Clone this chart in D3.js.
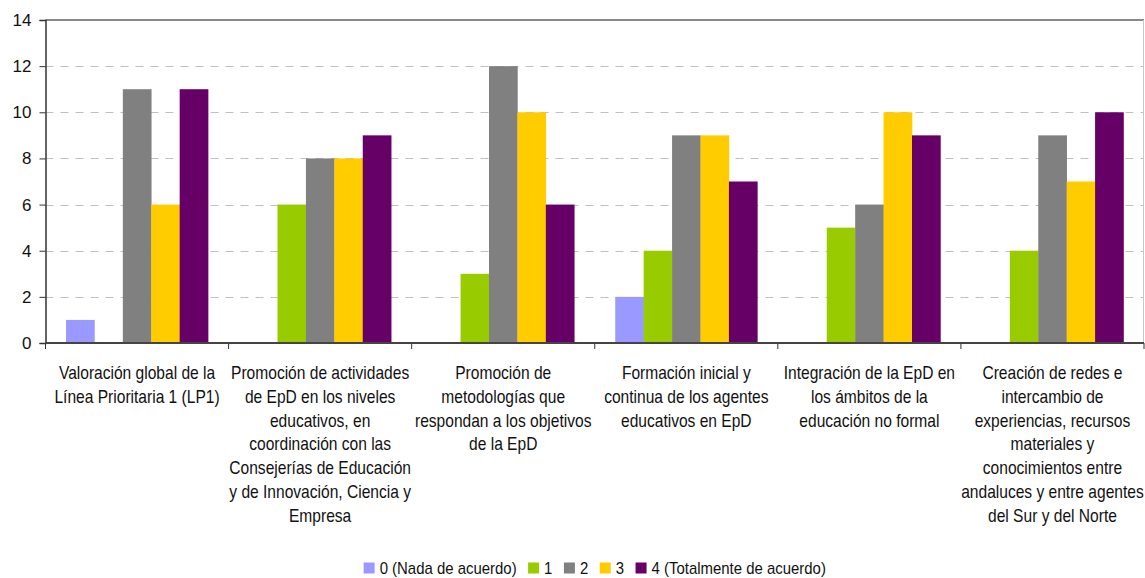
<!DOCTYPE html>
<html>
<head>
<meta charset="utf-8">
<script src="https://cdn.jsdelivr.net/npm/d3@7"></script>
<style>
  html, body { margin: 0; padding: 0; background: #fff; }
  svg { display: block; font-family: "Liberation Sans", Arial, sans-serif; }
</style>
</head>
<body>
<svg id="chart" width="1145" height="578"></svg>
<script>
const categories = [
  ["Valoración global de la", "Línea Prioritaria 1 (LP1)"],
  ["Promoción de actividades", "de EpD en los niveles", "educativos, en", "coordinación con las", "Consejerías de Educación", "y de Innovación, Ciencia y", "Empresa"],
  ["Promoción de", "metodologías que", "respondan a los objetivos", "de la EpD"],
  ["Formación inicial y", "continua de los agentes", "educativos en EpD"],
  ["Integración de la EpD en", "los ámbitos de la", "educación no formal"],
  ["Creación de redes e", "intercambio de", "experiencias, recursos", "materiales y", "conocimientos entre", "andaluces y entre agentes", "del Sur y del Norte"]
];
const seriesNames = ["0 (Nada de acuerdo)", "1", "2", "3", "4 (Totalmente de acuerdo)"];
const seriesColors = ["#9999FF", "#99CC00", "#808080", "#FFCC00", "#660066"];
const s0 = [1, 0, 0, 2, 0, 0];
const s1 = [0, 6, 3, 4, 5, 4];
const s2 = [11, 8, 12, 9, 6, 9];
const s3 = [6, 8, 10, 9, 10, 7];
const s4 = [11, 9, 6, 7, 9, 10];
const seriesValues = [s0, s1, s2, s3, s4];
const yTicks = [0, 2, 4, 6, 8, 10, 12, 14];

(function () {
const svg = d3.select("#chart");
const pLeft = 45.5, pRight = 1144, pTop = 20, pBottom = 343;
const catIdx = categories.map((c, i) => i);

const x0 = d3.scaleBand().domain(catIdx).range([pLeft, pRight]).padding(0);
const bw = x0.bandwidth();
const x1 = d3.scaleBand().domain(d3.range(seriesNames.length)).range([20.5, bw - 20.5]).padding(0);
const y = d3.scaleLinear().domain([0, 14]).range([pBottom, pTop]);

// gridlines
svg.append("g").selectAll("line").data(yTicks.filter(t => t > 0 && t < 14)).join("line")
  .attr("x1", pLeft).attr("x2", pRight)
  .attr("y1", d => Math.round(y(d)) + 0.5).attr("y2", d => Math.round(y(d)) + 0.5)
  .attr("stroke", "#c0c0c0").attr("stroke-width", 1).attr("stroke-dasharray", "8,7");

// top border and right border
svg.append("line").attr("x1", pLeft).attr("x2", pRight).attr("y1", pTop).attr("y2", pTop)
  .attr("stroke", "#888").attr("stroke-width", 2);
svg.append("line").attr("x1", pRight - 0.5).attr("x2", pRight - 0.5).attr("y1", pTop).attr("y2", pBottom)
  .attr("stroke", "#c8c8c8").attr("stroke-width", 1);

// bars
const groups = svg.append("g").selectAll("g").data(catIdx).join("g")
  .attr("transform", i => `translate(${x0(i)},0)`);
groups.selectAll("rect").data(i => seriesValues.map((s, k) => ({k, v: s[i]})).filter(d => d.v > 0)).join("rect")
  .attr("x", d => x1(d.k)).attr("width", x1.bandwidth() + 0.3)
  .attr("y", d => y(d.v)).attr("height", d => y(0) - y(d.v))
  .attr("fill", d => seriesColors[d.k]);

// y axis
const yAxis = d3.axisLeft(y).tickValues(yTicks).tickSize(6).tickPadding(8).tickFormat(d3.format("d"));
const gy = svg.append("g").attr("transform", `translate(${pLeft},0)`).call(yAxis);
gy.attr("font-family", null);
gy.select(".domain").attr("stroke", "#333").attr("stroke-width", 1.5);
gy.selectAll(".tick line").attr("stroke", "#333");
gy.selectAll(".tick text").attr("font-size", 17).attr("fill", "#111");

// x axis line and ticks
const boundaries = d3.range(categories.length + 1).map(i => pLeft + i * bw);
svg.append("g").selectAll("line").data(boundaries).join("line")
  .attr("x1", d => d).attr("x2", d => d).attr("y1", pBottom).attr("y2", pBottom + 6)
  .attr("stroke", "#333").attr("stroke-width", 1);
svg.append("line").attr("x1", pLeft).attr("x2", pRight).attr("y1", pBottom).attr("y2", pBottom)
  .attr("stroke", "#444").attr("stroke-width", 2);

// category labels (narrow-looking text)
const labSX = 0.89;
const lab = svg.append("g").selectAll("g").data(catIdx).join("g")
  .attr("transform", i => `translate(${x0(i) + bw / 2},379) scale(${labSX},1)`);
const labText = lab.append("text").attr("text-anchor", "middle").attr("font-size", 17.5).attr("fill", "#111");
labText.selectAll("tspan").data(i => categories[i]).join("tspan")
  .attr("x", 0)
  .attr("dy", (d, j) => j === 0 ? 0 : 23.8)
  .text(d => d);

// legend
const leg = svg.append("g");
const legSX = 0.934;
let cx = 0;
seriesNames.forEach((name, k) => {
  leg.append("rect").attr("x", cx).attr("y", -11).attr("width", 11).attr("height", 11).attr("fill", seriesColors[k]);
  const t = leg.append("text").attr("transform", `translate(${cx + 16},0) scale(${legSX},1)`)
    .attr("font-size", 16).attr("fill", "#111").text(name);
  const w = t.node().getComputedTextLength() * legSX;
  cx += 16 + w + 11.5;
});
const totalW = cx - 11.5;
leg.attr("transform", `translate(${(pLeft + pRight) / 2 - totalW / 2},573.5)`);
})();
</script>
</body>
</html>
